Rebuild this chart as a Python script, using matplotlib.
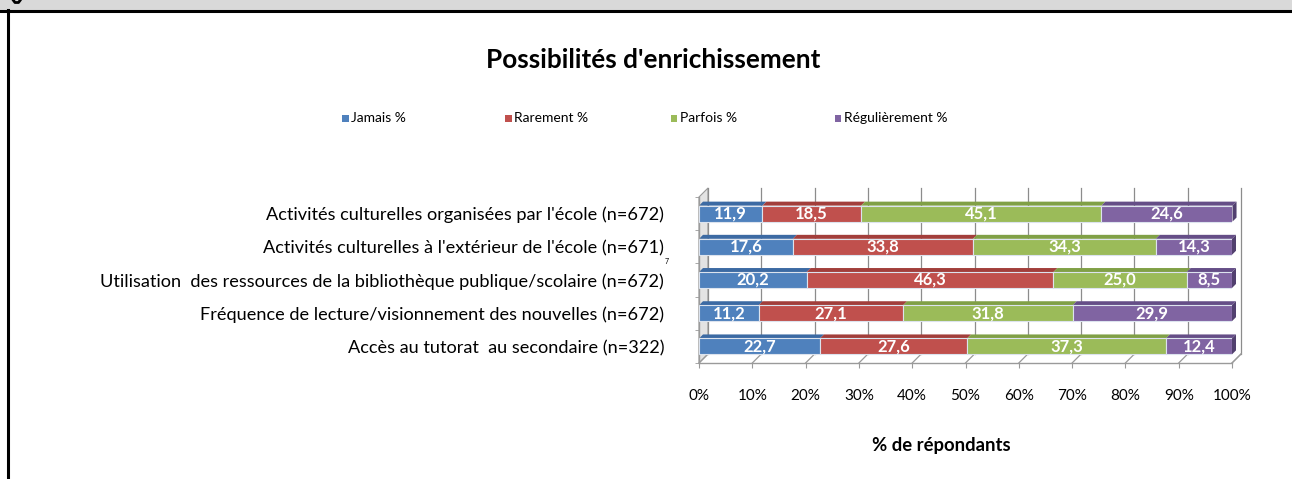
import matplotlib
matplotlib.use("Agg")
import matplotlib.pyplot as plt
from matplotlib.patches import Rectangle, Polygon
from matplotlib.lines import Line2D
from matplotlib.transforms import IdentityTransform
import numpy as np

plt.rcParams['font.family'] = ['Lato', 'DejaVu Sans']

# ---------------- data ----------------
categories = [
    "Activités culturelles organisées par l'école (n=672)",
    "Activités culturelles à l'extérieur de l'école (n=671)",
    "Utilisation  des ressources de la bibliothèque publique/scolaire (n=672)",
    "Fréquence de lecture/visionnement des nouvelles (n=672)",
    "Accès au tutorat  au secondaire (n=322)",
]
series_names = ["Jamais %", "Rarement %", "Parfois %", "Régulièrement %"]
jamais = [11.9, 17.6, 20.2, 11.2, 22.7]
rarement = [18.5, 33.8, 46.3, 27.1, 27.6]
parfois = [45.1, 34.3, 25.0, 31.8, 37.3]
regulierement = [24.6, 14.3, 8.5, 29.9, 12.4]
x_ticks = [0, 10, 20, 30, 40, 50, 60, 70, 80, 90, 100]
x_tick_labels = [f"{t}%" for t in x_ticks]
title = "Possibilités d'enrichissement"
x_label = "% de répondants"

series = [jamais, rarement, parfois, regulierement]
colors = ["#4F81BD", "#C0504D", "#9BBB59", "#8064A2"]
top_colors = ["#3C6AA3", "#A23E3B", "#80A046", "#654E87"]
side_colors = ["#33598A", "#8A3330", "#6B8A39", "#52406F"]

W, H = 1292, 479
fig = plt.figure(figsize=(W / 100, H / 100), dpi=100)

def fx(px):
    return px / W

def fy(py):
    return 1 - py / H

# header band and frame
fig.patches.append(Rectangle((0, fy(10)), 1, 1 - fy(10), transform=fig.transFigure,
                             facecolor="#D9D9D9", edgecolor="none", zorder=0))
fig.lines.append(Line2D([0, 1], [fy(10.5), fy(10.5)], transform=fig.transFigure,
                        color="black", lw=2.2))
fig.lines.append(Line2D([fx(8), fx(8)], [fy(10), 0], transform=fig.transFigure,
                        color="black", lw=2.2))

# axes placement (front plane)
L, R, T, B = 699, 1232, 197, 363
ax = fig.add_axes([fx(L), fy(B), fx(R) - fx(L), fy(T) - fy(B)])
ax.set_xlim(0, 100)
n = len(categories)
ax.set_ylim(n - 0.5, -0.5)
ax.set_facecolor("none")
ax.patch.set_visible(False)

for s in ["top", "right"]:
    ax.spines[s].set_visible(False)
for s in ["left", "bottom"]:
    ax.spines[s].set_color("#9A9A9A")
    ax.spines[s].set_linewidth(1.0)

ax.set_xticks(x_ticks)
ax.set_xticklabels(x_tick_labels, fontsize=11)
ax.tick_params(axis="x", length=3.6, color="#9A9A9A", pad=15)
ax.set_yticks(range(n))
ax.set_yticklabels(categories, fontsize=13.1)
ax.tick_params(axis="y", which="major", length=0, pad=25)
ax.set_yticks(np.arange(-0.5, n, 1.0), minor=True)
ax.tick_params(axis="y", which="minor", length=3, color="#9A9A9A")

fig.canvas.draw()
tr = ax.transData
ident = IdentityTransform()

# 3D walls
wdx, wdy = 9, 9
(x0d, y0d) = tr.transform((0, n - 0.5))
(x0t, y0t) = tr.transform((0, -0.5))
wall = Polygon([(x0d, y0d), (x0d + wdx, y0d + wdy), (x0t + wdx, y0t + wdy), (x0t, y0t)],
               closed=True, transform=ident, facecolor="#E3E3E3", edgecolor="#9A9A9A",
               lw=0.8, clip_on=False, zorder=0.5)
ax.add_artist(wall)
for t in x_ticks:
    (xb, yb) = tr.transform((t, n - 0.5))
    (xt, yt) = tr.transform((t, -0.5))
    ax.add_artist(Line2D([xb + wdx, xt + wdx], [yb + wdy, yt + wdy], transform=ident,
                         color="#8C8C8C", lw=0.9, clip_on=False, zorder=0.6))
    ax.add_artist(Line2D([xb, xb + wdx], [yb, yb + wdy], transform=ident,
                         color="#9A9A9A", lw=0.9, clip_on=False, zorder=0.6))

# bars with 3D top faces
bdx, bdy = 4, 4
bh = 0.48
lefts = np.zeros(n)
for i, vals in enumerate(series):
    vals = np.array(vals)
    ax.barh(range(n), vals, left=lefts, height=bh, color=colors[i],
            edgecolor="#DCE3EE", linewidth=0.8, zorder=3)
    for j in range(n):
        a = lefts[j]
        b = lefts[j] + vals[j]
        (xa, ya) = tr.transform((a, j - bh / 2))
        (xb_, _) = tr.transform((b, j - bh / 2))
        top = Polygon([(xa, ya), (xb_, ya), (xb_ + bdx, ya + bdy), (xa + bdx, ya + bdy)],
                      closed=True, transform=ident, facecolor=top_colors[i],
                      edgecolor="none", clip_on=False, zorder=2.5)
        ax.add_artist(top)
        if i == len(series) - 1:
            (_, yl) = tr.transform((b, j + bh / 2))
            side = Polygon([(xb_, ya), (xb_ + bdx, ya + bdy), (xb_ + bdx, yl + bdy), (xb_, yl)],
                           closed=True, transform=ident, facecolor=side_colors[i],
                           edgecolor="none", clip_on=False, zorder=2.6)
            ax.add_artist(side)
        ax.text(a + vals[j] / 2, j, f"{vals[j]:.1f}".replace(".", ","), ha="center",
                va="center", color="white", fontsize=12, fontweight="bold", zorder=4)
    lefts = lefts + vals

# right wall
(xr_b, yr_b) = tr.transform((100, n - 0.5))
ax.add_artist(Line2D([xr_b, xr_b + wdx], [yr_b, yr_b + wdy], transform=ident,
                     color="#9A9A9A", lw=0.9, clip_on=False, zorder=0.6))

# superscript
fig.text(fx(665), fy(262), "7", fontsize=5, ha="left", va="center")

# title, legend, axis label
fig.text(fx(653), fy(60), title, fontsize=18.8, fontweight="bold", ha="center", va="center")
leg_x = [345, 508, 674, 838]
for i, name in enumerate(series_names):
    fig.patches.append(Rectangle((fx(leg_x[i] - 3.5), fy(122)), fx(7), fy(115) - fy(122),
                                 transform=fig.transFigure, facecolor=colors[i],
                                 edgecolor="none"))
    fig.text(fx(leg_x[i] + 6), fy(118.5), name, fontsize=10, ha="left", va="center")
fig.text(fx(941), fy(446), x_label, fontsize=13.3, fontweight="bold", ha="center", va="center")

# small descender fragment of the cut-off figure caption at top-left
fig.lines.append(Line2D([fx(13.5), fx(15), fx(18.5), fx(20)], [fy(0.5), fy(2.5), fy(2.5), fy(0.5)],
                        transform=fig.transFigure, color="black", lw=2.0))

fig.savefig("out.png", dpi=100)
